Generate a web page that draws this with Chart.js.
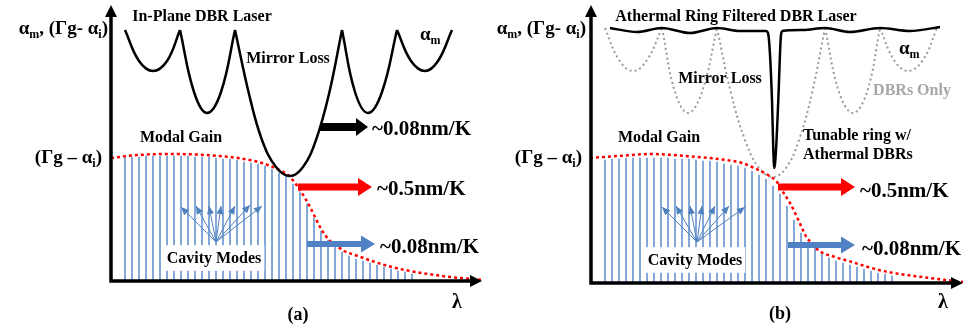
<!DOCTYPE html>
<html>
<head>
<meta charset="utf-8">
<script src="https://cdn.jsdelivr.net/npm/chart.js@4.4.1/dist/chart.umd.min.js"></script>
<style>
  body { margin: 0; background: #fff; }
  #wrap { position: relative; width: 964px; height: 329px; }
  canvas { position: absolute; top: 0; }
  #panelA { left: 0; }
  #panelB { left: 482px; }
</style>
</head>
<body>
<div id="wrap">
  <canvas id="panelA" width="482" height="329"></canvas>
  <canvas id="panelB" width="482" height="329"></canvas>
</div>
<script>
// Cavity modes (shared by both panels): wavelength position and height
const modeX = [14, 21, 28, 35, 42, 49, 56, 63, 70, 77, 84, 91, 98, 105, 112, 119, 126, 133, 140, 147, 154,
               161, 168, 175, 182, 189, 196, 203, 210, 217, 224, 231, 238, 245, 252, 259, 266, 273, 280, 287, 294, 301];
const modeTop = [123, 124, 124, 125, 125, 125, 125, 125, 125, 125, 124, 124, 124, 123, 122, 122, 121, 119, 118, 117, 115,
                 112, 108, 104, 97, 89, 77, 63, 50, 41, 35, 29, 25, 22, 20, 18, 16, 14, 12, 10, 9, 7];

// Panel (a) modal gain
const gainAX = [0, 27, 61, 94, 127, 151, 164, 177, 187, 194, 199, 204, 209, 214, 219, 226, 233, 244, 261, 277, 294, 339, 372];
const gainAY = [123, 126, 127, 126, 123, 118, 113, 106, 94, 83, 74, 64, 54, 46, 40, 35, 30, 26, 20, 15, 11, 4, 1];

// Panel (a) mirror loss (null = cusp between DBR lobes)
const lossAX = [14, 28, 42, 56, 69, 69, 69, 83, 96, 110, 124, 124, 124, 138, 151, 165, 179, 192, 205, 218, 231,
                231, 231, 244, 257, 271, 286, 286, 286, 300, 314, 327, 341];
const lossAY = [251, 220, 210, 220, 251, null, 251, 189, 168, 189, 251, null, 251, 187, 141, 114, 105, 114, 141, 187, 251,
                null, 251, 189, 168, 189, 251, null, 251, 220, 210, 220, 251];

// Panel (b) modal gain
const gainBX = [-1, 27, 61, 94, 127, 151, 161, 177, 186, 192, 199, 206, 211, 216, 221, 227, 244, 261, 277, 297, 339, 372];
const gainBY = [125, 127, 129, 127, 124, 120, 116, 108, 101, 91, 80, 66, 55, 45, 40, 33, 26, 21, 16, 11, 5, 1];

// Panel (b) DBR-only mirror loss
const dbrBX = [14, 28, 42, 56, 71, 71, 71, 84, 97, 111, 126, 126, 126, 140, 154, 168, 182, 195, 208, 221, 234,
               234, 234, 248, 262, 276, 289, 289, 289, 303, 317, 332, 346];
const dbrBY = [255, 223, 212, 223, 255, null, 255, 191, 170, 191, 255, null, 255, 190, 143, 115, 106, 115, 143, 190, 255,
               null, 255, 191, 170, 191, 255, null, 255, 223, 212, 223, 255];

// Panel (b) ring filtered mirror loss
const ringBX = [19, 46, 71, 99, 126, 149, 175, 177, 181, 182.3, 183.3, 185, 187.3, 190, 191.5, 212, 234, 259, 289, 319, 349];
const ringBY = [255, 251, 255, 250, 255, 252, 252, 250, 183, 133, 115, 133, 183, 248, 252, 253, 255, 251, 255, 252, 256];

const pts = (xs, ys) => xs.map((x, i) => ({ x: x, y: ys[i] }));
const FONT = '"Liberation Serif", "Times New Roman", serif';

// arrow head helper
const head = (ctx, tx, ty, dx, dy, len, half) => {
    const bx = tx - dx * len, by = ty - dy * len;
    ctx.beginPath();
    ctx.moveTo(tx, ty);
    ctx.lineTo(bx - dy * half, by + dx * half);
    ctx.lineTo(bx + dy * half, by - dx * half);
    ctx.closePath();
    ctx.fill();
};

// text with subscripts: parts = [[text, isSub], ...]
const drawRich = (ctx, parts, x, y, size, align, color, bg) => {
    const big = `bold ${size}px ${FONT}`;
    const small = `bold ${Math.round(size * 0.62)}px ${FONT}`;
    let total = 0;
    const widths = parts.map(p => {
        ctx.font = p[1] ? small : big;
        const w = ctx.measureText(p[0]).width;
        total += w;
        return w;
    });
    let left = x;
    if (align === 'center') left = x - total / 2;
    if (align === 'right') left = x - total;
    const base = y + size * 0.32;
    if (bg) {
        ctx.fillStyle = '#fff';
        ctx.fillRect(left - 3, y - size * 0.8, total + 6, size * 1.6);
    }
    ctx.fillStyle = color || '#000';
    ctx.textBaseline = 'alphabetic';
    ctx.textAlign = 'left';
    parts.forEach((p, i) => {
        ctx.font = p[1] ? small : big;
        ctx.fillText(p[0], left, p[1] ? base + size * 0.22 : base);
        left += widths[i];
    });
};

// Axes, arrows and labels
const decoPlugin = {
    id: 'deco',
    afterDatasetsDraw(chart, args, opts) {
        const ctx = chart.ctx;
        const X = v => chart.scales.x.getPixelForValue(v);
        const Y = v => chart.scales.y.getPixelForValue(v);
        ctx.save();

        // white boxes + labels that sit on the modes go first
        opts.labels.filter(l => l.bg).forEach(l => {
            drawRich(ctx, l.parts || [[l.t]], X(l.x), Y(l.y), l.size, l.align, l.color, true);
        });

        // fan of arrows to the cavity modes
        ctx.strokeStyle = '#4f81bd';
        ctx.fillStyle = '#4f81bd';
        ctx.lineWidth = 1;
        const fx = X(opts.fan.from[0]), fy = Y(opts.fan.from[1]);
        opts.fan.tips.forEach(t => {
            const tx = X(t[0]), ty = Y(t[1]);
            const d = Math.hypot(tx - fx, ty - fy);
            ctx.beginPath();
            ctx.moveTo(fx, fy);
            ctx.lineTo(tx, ty);
            ctx.stroke();
            head(ctx, tx, ty, (tx - fx) / d, (ty - fy) / d, 8, 3.5);
        });

        // axes
        const ox = X(0), oy = Y(0);
        ctx.strokeStyle = '#000';
        ctx.fillStyle = '#000';
        ctx.lineWidth = 3.5;
        ctx.beginPath();
        ctx.moveTo(ox, oy + 1.7);
        ctx.lineTo(ox, Y(opts.yTip) + 10);
        ctx.moveTo(ox - 1.7, oy);
        ctx.lineTo(X(opts.xTip) - 10, oy);
        ctx.stroke();
        head(ctx, ox, Y(opts.yTip), 0, -1, 12, 6);
        head(ctx, X(opts.xTip), oy, 1, 0, 12, 6);

        // thick shift arrows
        opts.arrows.forEach(a => {
            const x0 = X(a.from), x1 = X(a.to), y = Y(a.y);
            ctx.fillStyle = a.color;
            ctx.fillRect(x0, y - a.shaft / 2, x1 - a.len - x0 + 1, a.shaft);
            head(ctx, x1, y, 1, 0, a.len, a.head / 2);
        });

        opts.labels.filter(l => !l.bg).forEach(l => {
            drawRich(ctx, l.parts || [[l.t]], X(l.x), Y(l.y), l.size, l.align, l.color, false);
        });
        ctx.restore();
    }
};

const makePanel = (id, xMin, yMin, datasets, deco) => new Chart(document.getElementById(id), {
    type: 'scatter',
    data: { datasets: datasets },
    options: {
        responsive: false,
        animation: false,
        devicePixelRatio: 1,
        events: [],
        layout: { padding: 0 },
        elements: { point: { radius: 0 } },
        scales: {
            x: { type: 'linear', display: false, offset: false, min: xMin, max: xMin + 482 },
            y: { type: 'linear', display: false, min: yMin, max: yMin + 329 }
        },
        plugins: { legend: { display: false }, tooltip: { enabled: false }, deco: deco }
    },
    plugins: [decoPlugin]
});

const modesSet = () => ({
    type: 'bar', data: pts(modeX, modeTop), backgroundColor: '#6b96d2',
    barThickness: 1, order: 3
});
const gainSet = (xs, ys) => ({
    type: 'line', data: pts(xs, ys), borderColor: '#ff0000', borderWidth: 2.5,
    borderDash: [3, 3], cubicInterpolationMode: 'monotone', pointRadius: 0, order: 1
});

const sub = (a, b) => [[a], [b, 1]];
const axisLabel = [['α'], ['m', 1], [', (Γg- α'], ['i', 1], [')']];
const gainLabel = [['(Γg – α'], ['i', 1], [')']];

// Panel (a): In-plane DBR laser
makePanel('panelA', -111, -48, [
    { type: 'line', data: pts(lossAX, lossAY), borderColor: '#000', borderWidth: 2.5,
      tension: 0.4, spanGaps: false, pointRadius: 0, order: 0 },
    gainSet(gainAX, gainAY),
    modesSet()
], {
    xTip: 371, yTip: 276,
    fan: { from: [105, 39], tips: [[70, 74], [85, 75], [98, 75], [110, 75], [124, 75], [139, 76], [151, 75]] },
    arrows: [
        { from: 209, to: 257, y: 154, shaft: 8, head: 18, len: 12, color: '#000' },
        { from: 187, to: 261, y: 94, shaft: 7, head: 18, len: 14, color: '#ff0000' },
        { from: 196, to: 264, y: 37, shaft: 6, head: 17, len: 14, color: '#4f81c4' }
    ],
    labels: [
        { t: 'In-Plane DBR Laser', x: 91, y: 265, size: 16, align: 'center' },
        { t: 'Mirror Loss', x: 177, y: 223, size: 16, align: 'center' },
        { t: 'Modal Gain', x: 70, y: 144, size: 16, align: 'center' },
        { t: 'Cavity Modes', x: 103, y: 23, size: 16, align: 'center', bg: true },
        { t: '~0.08nm/K', x: 261, y: 153, size: 21, align: 'left' },
        { t: '~0.5nm/K', x: 266, y: 93, size: 21, align: 'left' },
        { t: '~0.08nm/K', x: 269, y: 35, size: 21, align: 'left' },
        { t: 'λ', x: 346, y: -21, size: 20, align: 'center' },
        { t: '(a)', x: 187, y: -33, size: 18, align: 'center' },
        { parts: sub('α', 'm'), x: 309, y: 247, size: 19, align: 'left' },
        { parts: axisLabel, x: -3, y: 253, size: 19, align: 'right' },
        { parts: gainLabel, x: -9, y: 124, size: 19, align: 'right' }
    ]
});

// Panel (b): Athermal ring filtered DBR laser
makePanel('panelB', -109, -46, [
    { type: 'line', data: pts(ringBX, ringBY), borderColor: '#000', borderWidth: 2.5,
      cubicInterpolationMode: 'monotone', pointRadius: 0, order: 0 },
    { type: 'line', data: pts(dbrBX, dbrBY), borderColor: '#999999', borderWidth: 2,
      borderDash: [2, 3], tension: 0.4, spanGaps: false, pointRadius: 0, order: 2 },
    gainSet(gainBX, gainBY),
    modesSet()
], {
    xTip: 372, yTip: 278,
    fan: { from: [106, 41], tips: [[71, 76], [85, 77], [99, 77], [111, 77], [124, 77], [138, 77], [154, 76]] },
    arrows: [
        { from: 187, to: 264, y: 96, shaft: 7, head: 18, len: 14, color: '#ff0000' },
        { from: 197, to: 264, y: 38, shaft: 6, head: 17, len: 14, color: '#4f81c4' }
    ],
    labels: [
        { t: 'Athermal Ring Filtered DBR Laser', x: 145, y: 267, size: 16, align: 'center' },
        { t: 'Mirror Loss', x: 129, y: 205, size: 16, align: 'center' },
        { t: 'DBRs Only', x: 321, y: 193, size: 16, align: 'center', color: '#a6a6a6' },
        { t: 'Modal Gain', x: 68, y: 146, size: 16, align: 'center' },
        { t: 'Tunable ring w/', x: 212, y: 148, size: 16, align: 'left' },
        { t: 'Athermal DBRs', x: 212, y: 129, size: 16, align: 'left' },
        { t: 'Cavity Modes', x: 104, y: 23, size: 16, align: 'center', bg: true },
        { t: '~0.5nm/K', x: 269, y: 93, size: 21, align: 'left' },
        { t: '~0.08nm/K', x: 271, y: 35, size: 21, align: 'left' },
        { t: 'λ', x: 352, y: -19, size: 20, align: 'center' },
        { t: '(b)', x: 189, y: -30, size: 18, align: 'center' },
        { parts: sub('α', 'm'), x: 308, y: 235, size: 19, align: 'left' },
        { parts: axisLabel, x: -5, y: 255, size: 19, align: 'right' },
        { parts: gainLabel, x: -9, y: 126, size: 19, align: 'right' }
    ]
});
</script>
</body>
</html>
